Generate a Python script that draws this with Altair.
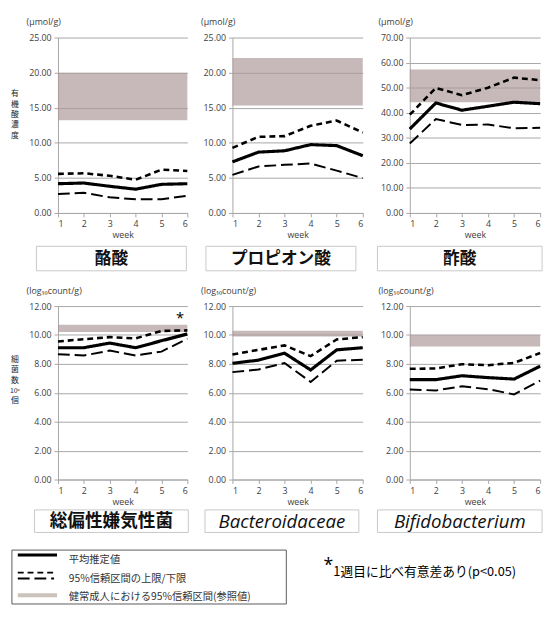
import altair as alt
import pandas as pd

WEEKS = [1, 2, 3, 4, 5, 6]

# 酪酸 (butyric acid)
butyric_mean = [4.17, 4.27, 3.80, 3.39, 4.08, 4.17]
butyric_upper = [5.57, 5.66, 5.30, 4.73, 6.17, 5.98]
butyric_lower = [2.69, 2.88, 2.23, 1.95, 1.95, 2.46]
butyric_ref = [13.2, 20.0]

# プロピオン酸 (propionic acid)
propionic_mean = [7.28, 8.67, 8.86, 9.74, 9.60, 8.16]
propionic_upper = [9.28, 10.85, 10.95, 12.43, 13.17, 11.46]
propionic_lower = [5.43, 6.63, 6.86, 7.05, 6.03, 4.96]
propionic_ref = [15.3, 22.1]

# 酢酸 (acetic acid)
acetic_mean = [33.5, 43.9, 41.0, 42.6, 44.2, 43.6]
acetic_upper = [39.2, 49.9, 47.0, 50.0, 54.0, 53.0]
acetic_lower = [27.7, 37.5, 35.1, 35.3, 33.8, 34.0]
acetic_ref = [44.2, 57.3]

# 総偏性嫌気性菌
anaerobe_mean = [9.12, 9.12, 9.44, 9.12, 9.60, 10.07]
anaerobe_upper = [9.55, 9.71, 9.85, 9.76, 10.28, 10.32]
anaerobe_lower = [8.67, 8.58, 8.92, 8.58, 8.85, 9.74]
anaerobe_ref = [10.2, 10.7]

# Bacteroidaceae
bacteroid_mean = [8.04, 8.26, 8.74, 7.58, 8.97, 9.12]
bacteroid_upper = [8.65, 8.97, 9.28, 8.54, 9.69, 9.85]
bacteroid_lower = [7.43, 7.61, 8.06, 6.75, 8.22, 8.29]
bacteroid_ref = [9.9, 10.3]

# Bifidobacterium
bifido_mean = [6.91, 6.91, 7.18, 7.05, 6.95, 7.84]
bifido_upper = [7.66, 7.68, 7.98, 7.91, 8.07, 8.75]
bifido_lower = [6.23, 6.16, 6.45, 6.25, 5.89, 6.84]
bifido_ref = [9.2, 10.0]

SERIES = ["mean", "upper", "lower"]
LEGEND_LABELS = ["平均推定値", "95%信頼区間の上限/下限", "健常成人における95%信頼区間(参照値)"]
NOTE = "1週目に比べ有意差あり(p<0.05)"
TOP_T = ["有", "機", "酸", "濃", "度"]
BOT_T = ["細", "菌", "数", "10ⁿ", "個"]

JP = "Noto Sans CJK JP"
NUM = "Open Sans"
AXIS_GRAY = "#a6a6a6"
LABEL_COLOR = "#404040"
BOX_GRAY = "#c8c8c8"

ONE = pd.DataFrame({"t": [""]})


def text_at(txt, x, y, size, font=JP, weight="normal", style="normal",
            color="#222", align="center"):
    return alt.Chart(pd.DataFrame({"t": [txt]})).mark_text(
        font=font, fontSize=size, fontWeight=weight, fontStyle=style,
        color=color, align=align, baseline="middle"
    ).encode(text="t:N", x=alt.value(x), y=alt.value(y))


def box_at(x1, x2, y1, y2, color):
    return alt.Chart(ONE).mark_rect(
        fill="white", fillOpacity=0, stroke=color, strokeWidth=1
    ).encode(x=alt.value(x1), x2=alt.value(x2), y=alt.value(y1), y2=alt.value(y2))


def panel(unit, ymax, step, mean, upper, lower, ref, lab, lab_box, lab_size,
          lab_font=JP, lab_weight="bold", lab_style="normal",
          ytitle=None, ytitle_y=None, star=None, h=179, w=133, unit_y=-16):
    rows = []
    for s, vals in zip(SERIES, [mean, upper, lower]):
        for wk, v in zip(WEEKS, vals):
            rows.append({"week": wk, "value": v, "series": s})
    df = pd.DataFrame(rows)
    xscale = alt.Scale(domain=[1, 6], nice=False, zero=False)
    yscale = alt.Scale(domain=[0, ymax], nice=False)
    n = int(round(ymax / step))
    yvals = [step * i for i in range(n + 1)]
    yaxis = alt.Axis(values=yvals, format=".2f", grid=True, gridColor=AXIS_GRAY,
                     gridWidth=1, domainColor=AXIS_GRAY, tickColor=AXIS_GRAY,
                     tickSize=4, labelColor=LABEL_COLOR, labelFont=NUM,
                     labelFontSize=9, labelPadding=3, title=None)
    xaxis = alt.Axis(values=WEEKS, format="d", title="week", grid=False,
                     domainColor=AXIS_GRAY, tickColor=AXIS_GRAY, tickSize=4,
                     labelColor=LABEL_COLOR, labelFont=NUM, labelFontSize=9,
                     labelPadding=3, titleFont=NUM, titleFontSize=9,
                     titleFontWeight="normal", titleColor=LABEL_COLOR,
                     titlePadding=2)
    band = alt.Chart(pd.DataFrame({"lo": [ref[0]], "hi": [ref[1]], "a": [1], "b": [6]})).mark_rect(
        color="#ac9898", opacity=0.68
    ).encode(
        x=alt.X("a:Q", scale=xscale, axis=xaxis),
        x2="b:Q",
        y=alt.Y("lo:Q", scale=yscale, axis=yaxis),
        y2="hi:Q",
    )
    lines = alt.Chart(df).mark_line(color="black", strokeCap="butt").encode(
        x=alt.X("week:Q", scale=xscale, axis=xaxis),
        y=alt.Y("value:Q", scale=yscale, axis=yaxis),
        detail="series:N",
        strokeDash=alt.StrokeDash("series:N", scale=alt.Scale(
            domain=SERIES, range=[[1, 0], [6, 4], [12, 5]]), legend=None),
        strokeWidth=alt.StrokeWidth("series:N", scale=alt.Scale(
            domain=SERIES, range=[3.2, 2.0, 2.0]), legend=None),
    )
    layers = [band, lines]
    if star:
        st = alt.Chart(pd.DataFrame({"wk": [star[0]], "v": [star[1]], "t": ["*"]})).mark_text(
            fontSize=15, font=NUM, color="black", baseline="middle"
        ).encode(
            x=alt.X("wk:Q", scale=xscale, axis=xaxis),
            y=alt.Y("v:Q", scale=yscale, axis=yaxis),
            text="t:N",
        )
        layers.append(st)
    if ytitle:
        for ch, yy in zip(ytitle, ytitle_y):
            layers.append(text_at(ch, -44, yy, 8 if len(ch) == 1 else 7))
    # unit label above the axis
    layers.append(text_at(unit, -32, unit_y, 9, font=NUM, color=LABEL_COLOR,
                          align="left"))
    bx1, bx2, by1, by2 = lab_box
    layers.append(box_at(bx1, bx2, by1, by2, BOX_GRAY))
    layers.append(text_at(lab, (bx1 + bx2) / 2, (by1 + by2) / 2 + 1, lab_size,
                          font=lab_font, weight=lab_weight, style=lab_style,
                          color="#111"))
    return alt.layer(*layers).properties(width=w, height=h)


row1 = alt.hconcat(
    panel("(μmol/g)", 25, 5, butyric_mean, butyric_upper, butyric_lower, butyric_ref,
          "酪酸", (-22, 131, 213, 238), 17,
          ytitle=TOP_T, ytitle_y=[58, 68.5, 79, 89.5, 100], w=132),
    panel("(μmol/g)", 25, 5, propionic_mean, propionic_upper, propionic_lower, propionic_ref,
          "プロピオン酸", (-27, 126, 213, 238), 17),
    panel("(μmol/g)", 70, 10, acetic_mean, acetic_upper, acetic_lower, acetic_ref,
          "酢酸", (-33, 135, 213, 238), 17),
    spacing=7,
)
row2 = alt.hconcat(
    panel("(log₁₀count/g)", 12, 2, anaerobe_mean, anaerobe_upper, anaerobe_lower,
          anaerobe_ref, "総偏性嫌気性菌", (-24, 133, 208, 231), 18,
          ytitle=BOT_T, ytitle_y=[55, 65.5, 76, 86.5, 97], star=(5.72, 11.2), h=177, w=132,
          unit_y=-15),
    panel("(log₁₀count/g)", 12, 2, bacteroid_mean, bacteroid_upper, bacteroid_lower,
          bacteroid_ref, "Bacteroidaceae", (-28, 129, 208, 231), 19,
          lab_font=NUM, lab_weight="normal", lab_style="italic", h=177, unit_y=-15),
    panel("(log₁₀count/g)", 12, 2, bifido_mean, bifido_upper, bifido_lower,
          bifido_ref, "Bifidobacterium", (-33, 135, 208, 231), 19,
          lab_font=NUM, lab_weight="normal", lab_style="italic", h=177, unit_y=-15),
    spacing=7,
)

# legend (origin aligned with the first plot's left edge)
LEG_H = 55
leg_box = box_at(-47, 233, 0, LEG_H, "#595959")
leg_mean = alt.Chart(ONE).mark_rule(color="black", strokeWidth=3.2).encode(
    x=alt.value(-41), x2=alt.value(-1), y=alt.value(5))
leg_up = alt.Chart(ONE).mark_rule(color="black", strokeWidth=2, strokeDash=[6, 4]).encode(
    x=alt.value(-41), x2=alt.value(-4), y=alt.value(23))
leg_lo = alt.Chart(ONE).mark_rule(color="black", strokeWidth=2, strokeDash=[12, 5]).encode(
    x=alt.value(-41), x2=alt.value(-4), y=alt.value(29))
leg_ref = alt.Chart(ONE).mark_rule(color="#cbc3bb", strokeWidth=4).encode(
    x=alt.value(-41), x2=alt.value(-1), y=alt.value(46))
leg_t1 = text_at(LEGEND_LABELS[0], 11, 10, 10.5, color="#333", align="left")
leg_t2 = text_at(LEGEND_LABELS[1], 11, 30, 10.5, color="#333", align="left")
leg_t3 = text_at(LEGEND_LABELS[2], 11, 47.5, 10.5, color="#333", align="left")
note_star = text_at("*", 271, 16, 18, font=NUM, color="black", align="left")
note_text = text_at(NOTE, 281, 22, 13, color="black", align="left")

legend = alt.layer(leg_box, leg_mean, leg_up, leg_lo, leg_ref, leg_t1, leg_t2,
                   leg_t3, note_star, note_text).properties(width=233, height=LEG_H)

chart = alt.vconcat(row1, row2, legend, spacing=16).properties(
    padding={"left": 2, "top": 4, "right": 0, "bottom": 0}
).configure_view(stroke=None)

chart.save("out.html", embed_options={"renderer": "svg", "actions": False})
